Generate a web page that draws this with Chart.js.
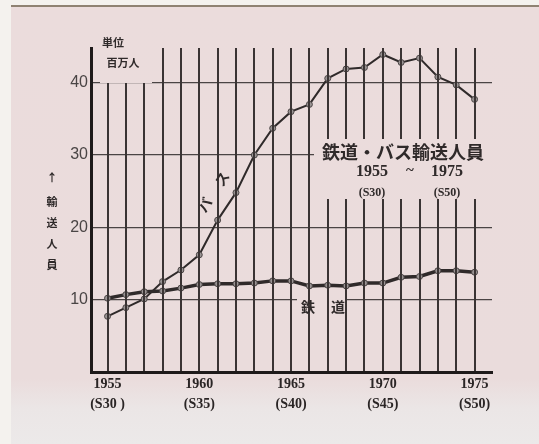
<!DOCTYPE html>
<html>
<head>
<meta charset="utf-8">
<script src="https://cdn.jsdelivr.net/npm/chart.js@4.4.1/dist/chart.umd.min.js"></script>
<style>
  body { margin:0; background:#f4f2ee; width:539px; height:444px; overflow:hidden; }
  #paper { position:absolute; left:11px; top:5px; right:0; bottom:0;
    border-top:2px solid #8f8272;
    background:linear-gradient(#ebdcdc 0%, #eadcdc 85%, #ebe6e6 92%, #ece9e9 100%); }
  #c { position:absolute; left:0; top:0; }
</style>
</head>
<body>
<div id="paper"></div>
<canvas id="c" width="539" height="444"></canvas>
<script>
// 鉄道・バス輸送人員 (百万人)
const years = [1955,1956,1957,1958,1959,1960,1961,1962,1963,1964,1965,1966,1967,1968,1969,1970,1971,1972,1973,1974,1975];
const busRiders  = [7.7, 8.9, 10.1, 12.5, 14.1, 16.2, 21.0, 24.8, 30.0, 33.7, 36.0, 37.0, 40.6, 41.9, 42.1, 43.9, 42.8, 43.4, 40.8, 39.7, 37.7];
const railRiders = [10.2, 10.7, 11.1, 11.2, 11.6, 12.1, 12.2, 12.2, 12.3, 12.6, 12.6, 11.9, 12.0, 11.9, 12.3, 12.3, 13.1, 13.2, 14.0, 14.0, 13.8];

const tickYears = [1955, 1960, 1965, 1970, 1975];
const tickShowa = ['(S30 )', '(S35)', '(S40)', '(S45)', '(S50)'];
const yTicks = [10, 20, 30, 40];

const ink = '#2f2a2a';
const cjk = '"Noto Sans CJK JP", sans-serif';
const serif = '"Liberation Serif", "DejaVu Serif", serif';

const toPoints = (vals) => years.map((y, i) => ({ x: y, y: vals[i] }));

function put(ctx, txt, x, y, font, opt) {
  opt = opt || {};
  ctx.save();
  ctx.font = font;
  ctx.fillStyle = opt.color || ink;
  ctx.textAlign = 'center';
  ctx.textBaseline = 'middle';
  ctx.translate(x, y);
  if (opt.rot) ctx.rotate(opt.rot);
  ctx.fillText(txt, 0, 0);
  ctx.restore();
}

const annotations = {
  id: 'annotations',
  beforeDatasetsDraw(chart) {
    // gap in the 10 line around 鉄 道
    chart.ctx.clearRect(297, 297, 48, 6);
  },
  afterDraw(chart) {
    const ctx = chart.ctx;
    // gaps in the grid behind the texts
    ctx.clearRect(100, 47, 52, 36);
    ctx.clearRect(314, 139, 182, 60);

    put(ctx, '単位', 113, 43, 'bold 11px ' + cjk);
    put(ctx, '百万人', 123, 63, 'bold 11px ' + cjk);

    put(ctx, '↑', 52, 178, 'bold 11px ' + cjk);
    ['輸', '送', '人', '員'].forEach((ch, i) => put(ctx, ch, 52, 202 + i * 21, 'bold 11px ' + cjk));

    put(ctx, '鉄道・バス輸送人員', 403, 152, 'bold 18px ' + cjk);
    put(ctx, '1955', 372, 172, 'bold 16px ' + serif);
    put(ctx, '~', 410, 171, 'bold 15px ' + serif);
    put(ctx, '1975', 447, 172, 'bold 16px ' + serif);
    put(ctx, '(S30)', 372, 193, 'bold 12px ' + serif);
    put(ctx, '(S50)', 447, 193, 'bold 12px ' + serif);

    put(ctx, 'バ', 205, 205, 'bold 14px ' + cjk, { rot: -1.0 });
    put(ctx, 'ス', 222, 179, 'bold 14px ' + cjk, { rot: -1.0 });

    put(ctx, '鉄', 308, 307, 'bold 14px ' + cjk);
    put(ctx, '道', 338, 307, 'bold 14px ' + cjk);
  }
};

new Chart(document.getElementById('c'), {
  type: 'line',
  data: {
    datasets: [
      {
        label: 'バス',
        data: toPoints(busRiders),
        borderColor: ink,
        borderWidth: 2,
        pointRadius: 3,
        pointBackgroundColor: '#9a9494',
        pointBorderColor: '#4a4444',
        pointBorderWidth: 1,
        tension: 0
      },
      {
        label: '鉄道',
        data: toPoints(railRiders),
        borderColor: ink,
        borderWidth: 3.5,
        pointRadius: 3,
        pointBackgroundColor: '#9a9494',
        pointBorderColor: '#4a4444',
        pointBorderWidth: 1,
        tension: 0
      }
    ]
  },
  options: {
    responsive: false,
    animation: false,
    devicePixelRatio: 1,
    layout: { padding: { top: 48, right: 47, bottom: 0, left: 0 } },
    plugins: { legend: { display: false }, tooltip: { enabled: false } },
    scales: {
      x: {
        type: 'linear',
        min: 1954.1,
        max: 1975.95,
        afterFit: (s) => { s.height = 72; },
        grid: { color: '#3a3434', lineWidth: 2, drawTicks: false, z: 1 },
        border: { color: '#1e1a1a', width: 3, z: 1 },
        ticks: {
          stepSize: 1,
          includeBounds: false,
          autoSkip: false,
          maxRotation: 0,
          padding: 2,
          color: '#2a2525',
          font: { family: 'Liberation Serif', weight: 'bold', size: 14, lineHeight: 1.45 },
          callback: (v) => {
            const i = tickYears.indexOf(v);
            return i < 0 ? '' : [String(tickYears[i]), tickShowa[i]];
          }
        }
      },
      y: {
        min: 0,
        max: 44.8,
        afterFit: (s) => { s.width = 91; },
        grid: { color: '#4a4444', lineWidth: 1.2, drawTicks: false },
        border: { color: '#1e1a1a', width: 3 },
        ticks: {
          stepSize: 10,
          includeBounds: false,
          padding: 3,
          color: '#4a4545',
          font: { family: 'Liberation Sans', size: 16 },
          callback: (v) => yTicks.includes(v) ? String(v) : ''
        }
      }
    }
  },
  plugins: [annotations]
});
</script>
</body>
</html>
